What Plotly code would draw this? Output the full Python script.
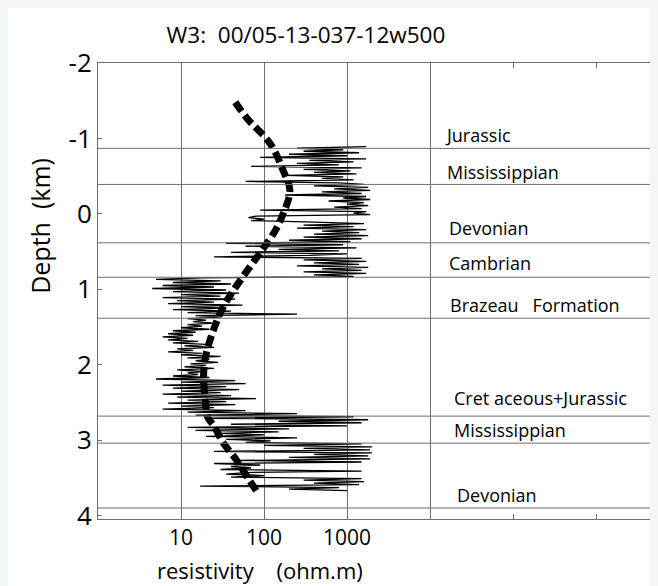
import plotly.graph_objects as go

# resistivity log (depth in km, resistivity in ohm.m)
log_depth = [
    -0.89, -0.87, -0.85, -0.83, -0.81, -0.79, -0.77, -0.75, -0.73, -0.71,
    -0.69, -0.67, -0.65, -0.63, -0.61, -0.59, -0.57, -0.55, -0.53, -0.51,
    -0.49, -0.47, -0.45, -0.43, -0.41, -0.39, -0.37, -0.35, -0.33, -0.31,
    -0.29, -0.27, -0.25, -0.23, -0.21, -0.19, -0.17, -0.15, -0.13, -0.11,
    -0.09, -0.07, -0.05, -0.03, -0.01, 0.01, 0.03, 0.05, 0.07, 0.09,
    0.11, 0.13, 0.15, 0.17, 0.19, 0.21, 0.23, 0.25, 0.27, 0.29,
    0.31, 0.33, 0.35, 0.37, 0.39, 0.41, 0.43, 0.45, 0.47, 0.49,
    0.51, 0.53, 0.55, 0.57, 0.59, 0.61, 0.63, 0.65, 0.67, 0.69,
    0.71, 0.73, 0.75, 0.77, 0.79, 0.81, 0.83, 0.85, 0.87, 0.89,
    0.91, 0.93, 0.95, 0.97, 0.99, 1.01, 1.03, 1.05, 1.07, 1.09,
    1.11, 1.13, 1.15, 1.17, 1.19, 1.21, 1.23, 1.25, 1.27, 1.29,
    1.31, 1.33, 1.35, 1.37, 1.39, 1.41, 1.43, 1.45, 1.47, 1.49,
    1.51, 1.53, 1.55, 1.57, 1.59, 1.61, 1.63, 1.65, 1.67, 1.69,
    1.71, 1.73, 1.75, 1.77, 1.79, 1.81, 1.83, 1.85, 1.87, 1.89,
    1.91, 1.93, 1.95, 1.97, 1.99, 2.01, 2.03, 2.05, 2.07, 2.09,
    2.11, 2.13, 2.15, 2.17, 2.19, 2.21, 2.23, 2.25, 2.27, 2.29,
    2.31, 2.33, 2.35, 2.37, 2.39, 2.41, 2.43, 2.45, 2.47, 2.49,
    2.51, 2.53, 2.55, 2.57, 2.59, 2.61, 2.63, 2.65, 2.67, 2.69,
    2.71, 2.73, 2.75, 2.77, 2.79, 2.81, 2.83, 2.85, 2.87, 2.89,
    2.91, 2.93, 2.95, 2.97, 2.99, 3.01, 3.03, 3.05, 3.07, 3.09,
    3.11, 3.13, 3.15, 3.17, 3.19, 3.21, 3.23, 3.25, 3.27, 3.29,
    3.31, 3.33, 3.35, 3.37, 3.39, 3.41, 3.43, 3.45, 3.47, 3.49,
    3.51, 3.53, 3.55, 3.57, 3.59, 3.61, 3.63, 3.65, 3.67,
]
log_res = [
    1700, 250, 900, 300, 1400, 200, 1000, 90, 1700, 350,
    1200, 250, 800, 70, 1500, 300, 1100, 400, 1300, 180,
    900, 500, 1200, 60, 800, 1600, 400, 1800, 700, 1900,
    500, 1500, 180, 1700, 900, 1900, 600, 1600, 1000, 1800,
    700, 1500, 90, 1700, 1200, 1900, 80, 65, 100, 70,
    400, 1600, 300, 1200, 250, 1700, 500, 1400, 400, 1800,
    300, 1500, 200, 1100, 35, 900, 60, 1300, 150, 800,
    40, 1000, 350, 25, 1500, 300, 1700, 400, 1400, 250,
    1800, 500, 1500, 300, 1700, 400, 1200, 18, 5, 30,
    8, 40, 6, 25, 4.5, 35, 8, 50, 10, 30,
    6, 45, 9, 25, 7, 55, 10, 35, 8, 40,
    12, 250, 15, 30, 12, 20, 14, 25, 12, 18,
    10, 22, 8, 15, 7, 14, 6, 12, 7, 16,
    8, 20, 11, 25, 9, 14, 7, 18, 10, 30,
    12, 22, 15, 28, 13, 20, 11, 25, 9, 18,
    12, 16, 8, 22, 5, 45, 10, 60, 6, 35,
    8, 50, 10, 30, 6, 40, 9, 80, 12, 35,
    7, 45, 10, 25, 6, 60, 12, 250, 15, 1200,
    20, 1800, 150, 1500, 40, 1000, 12, 200, 15, 150,
    30, 100, 20, 250, 35, 120, 60, 1500, 100, 2000,
    300, 1900, 25, 2000, 400, 1800, 200, 1900, 50, 1500,
    25, 90, 40, 70, 30, 1500, 60, 35, 100, 40,
    1500, 300, 1600, 400, 1400, 17, 800, 200, 1000,
]

# smoothed trend (thick dashed curve)
trend_depth = [-1.48, -1.26, -0.93, -0.575, -0.31, 0.0, 0.22, 0.46, 0.75, 1.03,
               1.24, 1.54, 1.90, 2.17, 2.47, 2.70, 2.80, 3.03, 3.27, 3.49, 3.69]
trend_res = [45, 63, 119, 170, 205, 170, 137, 98, 63, 42,
             32, 24.6, 19.7, 18.7, 19.7, 21, 24.6, 32, 47, 63, 83]

# formation tops (km) and labels
boundary_depth = [-0.868, -0.39, 0.384, 0.841, 1.384, 2.682, 3.04, 3.90]
formation_names = ["Jurassic", "Mississippian", "Devonian", "Cambrian",
                   "Brazeau\u00a0\u00a0\u00a0Formation", "Cret aceous+Jurassic",
                   "Mississippian", "Devonian"]
label_depth = [-1.05, -0.55, 0.19, 0.656, 1.21, 2.44, 2.87, 3.73]
label_logx = [4.16, 4.18, 4.21, 4.21, 4.22, 4.27, 4.27, 4.30]

depth_ticks = [-2, -1, 0, 1, 2, 3, 4]
res_ticks = [10, 100, 1000, 10000]
res_minor_ticks = [1e5, 1e6]

FONT = "Open Sans"
GREY = "#6e6e6e"

fig = go.Figure()

fig.add_trace(go.Scatter(
    x=log_res, y=log_depth, mode="lines",
    line=dict(color="black", width=1.3),
    showlegend=False, hoverinfo="skip",
))

fig.add_trace(go.Scatter(
    x=trend_res, y=trend_depth, mode="lines",
    line=dict(color="black", width=7, dash="11px,5px", shape="spline"),
    showlegend=False, hoverinfo="skip",
))

shapes = []
for d in boundary_depth:
    shapes.append(dict(type="line", xref="paper", yref="y", x0=0, x1=1,
                       y0=d, y1=d, line=dict(color=GREY, width=1)))

annotations = []
for name, d, lx in zip(formation_names, label_depth, label_logx):
    annotations.append(dict(x=lx, y=d, xref="x", yref="y", text=name,
                            showarrow=False, xanchor="left", yanchor="middle",
                            font=dict(family=FONT, size=18, color="black")))

annotations.append(dict(x=0.279, y=-0.112, xref="paper", yref="paper",
                        text="resistivity\u00a0\u00a0\u00a0\u00a0(ohm.m)",
                        showarrow=False, xanchor="center", yanchor="middle",
                        font=dict(family=FONT, size=22, color="black")))
annotations.append(dict(x=-0.099, y=0.644, xref="paper", yref="paper",
                        text="Depth\u00a0\u00a0(km)", textangle=-90,
                        showarrow=False, xanchor="center", yanchor="middle",
                        font=dict(family=FONT, size=25, color="black")))

fig.update_layout(
    width=671, height=586,
    margin=dict(l=90, r=0, t=55, b=75),
    paper_bgcolor="white",
    plot_bgcolor="white",
    title=dict(text="W3:\u00a0\u00a000/05-13-037-12w500", x=0.444, xanchor="center",
               y=0.954, yanchor="middle",
               font=dict(family=FONT, size=22.5, color="black")),
    shapes=shapes,
    annotations=annotations,
    xaxis=dict(
        type="log", range=[0, 7],
        tickvals=res_ticks, ticktext=["10", "100", "1000", ""],
        ticks="inside", ticklen=4, tickcolor=GREY,
        showgrid=True, gridcolor=GREY, gridwidth=1,
        minor=dict(tickvals=res_minor_ticks, ticks="inside", ticklen=5,
                   tickcolor=GREY, showgrid=False),
        showline=True, linecolor=GREY, linewidth=1, mirror="ticks",
        tickfont=dict(family=FONT, size=21, color="black"),
        zeroline=False,
    ),
    yaxis=dict(
        range=[4.046, -2],
        tickvals=depth_ticks, ticktext=[str(t) for t in depth_ticks],
        ticks="inside", ticklen=4, tickcolor=GREY,
        showgrid=False, zeroline=False,
        showline=True, linecolor=GREY, linewidth=1, mirror=False,
        tickfont=dict(family=FONT, size=26, color="black"),
    ),
)

# page background around the figure, as in the original page
fig.write_html("out.html",
               post_script="document.body.style.background='#f3f6f9';")
